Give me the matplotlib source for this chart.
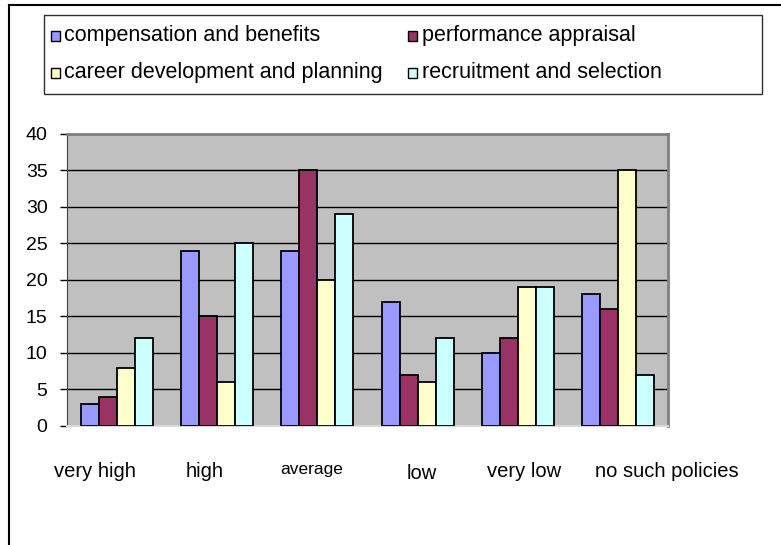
import matplotlib
matplotlib.use("Agg")
import matplotlib.pyplot as plt
import matplotlib.transforms as mtransforms
from matplotlib.lines import Line2D
from matplotlib.patches import Rectangle
import numpy as np

plt.rcParams['font.family'] = ['Liberation Sans', 'DejaVu Sans']

categories = ["very high", "high", "average", "low", "very low", "no such policies"]
series_names = ["compensation and benefits", "performance appraisal",
                "career development and planning", "recruitment and selection"]
compensation = [3, 24, 24, 17, 10, 18]
performance = [4, 15, 35, 7, 12, 16]
career = [8, 6, 20, 6, 19, 35]
recruitment = [12, 25, 29, 12, 19, 7]
y_ticks = [0, 5, 10, 15, 20, 25, 30, 35, 40]

colors = ["#9999FF", "#993366", "#FFFFCC", "#CCFFFF"]
# per-label horizontal nudges (pixels) and font sizes, matching the reference layout
label_dx = [-22, -13, -6, 4, 6, 49]
label_dy = [0, 0, 0, -2, 0, 0]
label_fs = [14.5, 14.5, 12.5, 14.5, 14.5, 14.5]

W, H = 781, 545
fig = plt.figure(figsize=(W / 100, H / 100), dpi=100)
ax = fig.add_axes([67 / W, 1 - 426 / H, (668 - 67) / W, (426 - 133.7) / H])
ax.set_facecolor("#C0C0C0")

x = np.arange(len(categories))
bw = 0.18
all_series = [compensation, performance, career, recruitment]
for i, (vals, c, name) in enumerate(zip(all_series, colors, series_names)):
    ax.bar(x + (i - 1.5) * bw, vals, width=bw, color=c, edgecolor="black",
           linewidth=1.3, label=name, zorder=3)

ax.set_xlim(-0.5, len(categories) - 0.5)
ax.set_ylim(0, 40)
ax.set_yticks(y_ticks)
ax.set_yticklabels([str(v) for v in y_ticks], fontsize=14)
ax.tick_params(axis='y', length=5, width=1, color="black", pad=9)
ax.yaxis.grid(True, color="black", linewidth=1)
ax.set_axisbelow(True)

ax.set_xticks(x)
ax.set_xticklabels(categories)
ax.tick_params(axis='x', length=0, pad=26)
for lab, dx, dy, fs in zip(ax.get_xticklabels(), label_dx, label_dy, label_fs):
    lab.set_fontsize(fs)
    lab.set_transform(lab.get_transform() +
                      mtransforms.ScaledTranslation(dx / 100, dy / 100, fig.dpi_scale_trans))

ax.spines['top'].set_color("#808080")
ax.spines['right'].set_color("#808080")
ax.spines['top'].set_linewidth(2)
ax.spines['right'].set_linewidth(2)
ax.spines['left'].set_color("#404040")
ax.spines['bottom'].set_color("#D8D8D8")
ax.spines['bottom'].set_linewidth(1.5)

# legend box (drawn in pixel layout to match the reference)
def fx(px):
    return px / W

def fy(py):
    return 1 - py / H

fig.add_artist(Rectangle((fx(43.5), fy(93.5)), fx(762) - fx(43.5), fy(15) - fy(93.5),
                         transform=fig.transFigure, facecolor="white",
                         edgecolor="#303030", linewidth=1.0))
col_x = [50.5, 408.5]
row_base = [41, 78]
for k, (name, c) in enumerate(zip(series_names, colors)):
    cx = col_x[k % 2]
    by = row_base[k // 2]
    fig.add_artist(Rectangle((fx(cx), fy(by)), fx(9), 10 / H,
                             transform=fig.transFigure, facecolor=c,
                             edgecolor="black", linewidth=1.0))
    fig.text(fx(cx + 13), fy(by), name, fontsize=15.5, va="baseline", ha="left")

# outer chart frame
fig.add_artist(Line2D([9 / W, 1], [1 - 5 / H, 1 - 5 / H], color="black", linewidth=1.5,
                      transform=fig.transFigure))
fig.add_artist(Line2D([9 / W, 9 / W], [1 - 5 / H, 0], color="black", linewidth=1.5,
                      transform=fig.transFigure))

fig.savefig("out.png", dpi=100)
